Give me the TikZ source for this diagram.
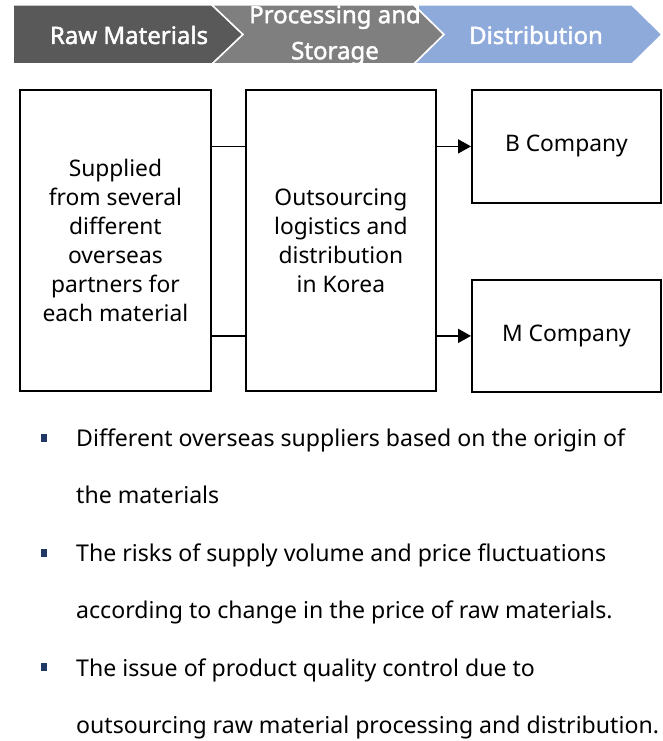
\documentclass[tikz,border=0pt]{standalone}
\usepackage{fontspec}
\setmainfont{Noto Sans}
\newfontfamily\headfont{Noto Sans}[FakeBold=1.8]
\usetikzlibrary{arrows.meta,calc}
\definecolor{chevdark}{HTML}{595959}
\definecolor{chevgray}{HTML}{7F7F7F}
\definecolor{chevblue}{HTML}{8EAADB}
\definecolor{bulletnavy}{HTML}{1F3864}
\begin{document}
\begin{tikzpicture}[x=1pt,y=-1pt,
 box/.style={draw=black, line width=1.8pt, inner sep=0, anchor=north west, align=center, font=\fontsize{22.8}{29}\selectfont},
 head/.style={text=white, font=\headfont\fontsize{24}{36}\selectfont, align=center, inner sep=0},
 chev/.style={draw=white, line width=1.5pt},
 bul/.style={fill=bulletnavy, inner sep=0, minimum width=6pt, minimum height=8pt},
 btext/.style={anchor=base west, inner sep=0, font=\fontsize{23.1}{28}\selectfont},
 link/.style={line width=1.8pt},
 arr/.style={line width=1.8pt, -{Triangle[length=13pt,width=14pt]}}]
\fill[white] (0,0) rectangle (663,741);
\useasboundingbox (0,0) rectangle (663,741);
% header chevrons
\fill[chevdark, chev] (13,5) -- (212,5) -- (243,34.5) -- (212,64) -- (13,64) -- cycle;
\fill[chevgray, chev] (212,5) -- (414,5) -- (444,34.5) -- (414,64) -- (212,64) -- (243,34.5) -- cycle;
\fill[chevblue, chev] (414,5) -- (632,5) -- (662,34.5) -- (632,64) -- (414,64) -- (444,34.5) -- cycle;
\node[head] (h1) at (129,35) {Raw Materials};
\node[head] (h2) at (335,35) {Processing and\\Storage};
\node[head] (h3) at (536,35) {Distribution};
% boxes
\node[box, minimum width=191pt, minimum height=301pt] (b1) at (19,89)
  {Supplied\\from several\\different\\overseas\\partners for\\each material};
\node[box, minimum width=190pt, minimum height=301pt] (b2) at (245,89)
  {Outsourcing\\logistics and\\distribution\\in Korea};
\node[box, minimum width=189pt, minimum height=113pt] (bco) at (471,89) {B Company};
\node[box, minimum width=189pt, minimum height=112pt] (mco) at (471,279) {M Company};
% connectors
\draw[link] (b1.east |- bco.west) -- (b2.west |- bco.west);
\draw[link] (b1.east |- mco.west) -- (b2.west |- mco.west);
\draw[arr] (b2.east |- bco.west) -- (bco.west);
\draw[arr] (b2.east |- mco.west) -- (mco.west);
% bullets
\node[bul] (s1) at (44,437.5) {};
\node[bul] (s2) at (44,552.5) {};
\node[bul] (s3) at (44,667) {};
\node[btext] (t1a) at (76,446.5) {Different overseas suppliers based on the origin of};
\node[btext] (t1b) at (76,503.5) {the materials};
\node[btext] (t2a) at (76,561.5) {The risks of supply volume and price fluctuations};
\node[btext] (t2b) at (76,618.5) {according to change in the price of raw materials.};
\node[btext] (t3a) at (76,676) {The issue of product quality control due to};
\node[btext] (t3b) at (76,733) {outsourcing raw material processing and distribution.};
\end{tikzpicture}
\end{document}
